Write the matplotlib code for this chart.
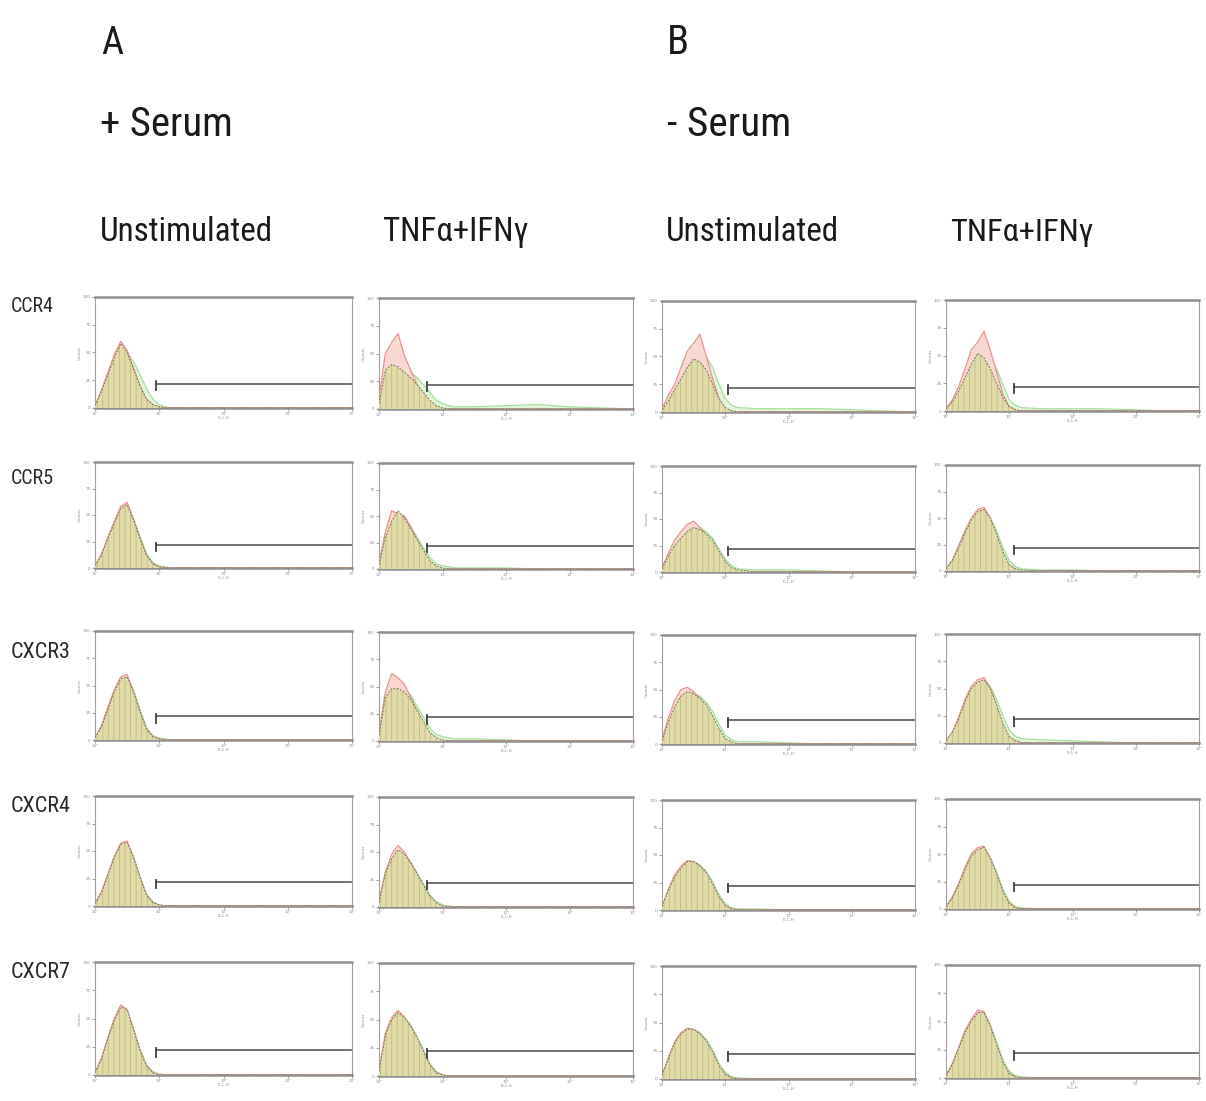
import matplotlib
matplotlib.use("Agg")
import matplotlib.pyplot as plt
from matplotlib import font_manager as fm
import numpy as np

plt.rcParams['hatch.linewidth'] = 0.6

# ---------------- data ----------------
panel_titles = ["A", "B"]
serum_labels = ["+ Serum", "- Serum"]
column_labels = ["Unstimulated", "TNF\u03b1+IFN\u03b3", "Unstimulated", "TNF\u03b1+IFN\u03b3"]
row_labels = ["CCR4", "CCR5", "CXCR3", "CXCR4", "CXCR7"]

# histogram sample points (log10 fluorescence, decades)
decades = [0.0, 0.1, 0.2, 0.3, 0.4, 0.5, 0.6, 0.7, 0.8, 0.9, 1.0, 1.1, 1.2,
           1.5, 2.0, 2.5, 3.0, 3.5, 4.0]
xtick_labels = ["10\u2070", "10\u00b9", "10\u00b2", "10\u00b3", "10\u2074"]
ytick_values = [0, 25, 50, 75, 100]

# isotype control (tan), red overlay, green overlay - % of axis height
iso = [
    [[2, 15, 30, 45, 58, 50, 35, 20, 8, 3, 1, 0, 0, 0, 0, 0, 0, 0, 0],
     [5, 35, 40, 38, 33, 28, 22, 15, 8, 3, 1, 0, 0, 0, 0, 0, 0, 0, 0],
     [2, 10, 20, 30, 40, 48, 45, 38, 25, 12, 4, 1, 0, 0, 0, 0, 0, 0, 0],
     [2, 8, 18, 30, 42, 52, 48, 38, 25, 12, 4, 1, 0, 0, 0, 0, 0, 0, 0]],
    [[2, 12, 28, 42, 56, 60, 45, 28, 12, 4, 1, 0, 0, 0, 0, 0, 0, 0, 0],
     [4, 30, 45, 55, 48, 38, 28, 18, 8, 3, 1, 0, 0, 0, 0, 0, 0, 0, 0],
     [3, 15, 25, 32, 38, 42, 40, 36, 30, 20, 10, 4, 2, 0, 0, 0, 0, 0, 0],
     [2, 10, 22, 36, 48, 56, 58, 50, 35, 18, 6, 2, 1, 0, 0, 0, 0, 0, 0]],
    [[2, 12, 28, 44, 56, 58, 44, 26, 10, 3, 1, 0, 0, 0, 0, 0, 0, 0, 0],
     [5, 40, 48, 48, 45, 38, 28, 18, 8, 3, 1, 0, 0, 0, 0, 0, 0, 0, 0],
     [3, 20, 34, 44, 48, 46, 42, 36, 26, 14, 5, 2, 0, 0, 0, 0, 0, 0, 0],
     [2, 10, 22, 38, 50, 56, 58, 50, 35, 18, 6, 2, 0, 0, 0, 0, 0, 0, 0]],
    [[2, 12, 28, 44, 56, 58, 44, 26, 10, 3, 1, 0, 0, 0, 0, 0, 0, 0, 0],
     [4, 30, 44, 52, 48, 40, 30, 20, 10, 4, 1, 0, 0, 0, 0, 0, 0, 0, 0],
     [3, 18, 30, 38, 44, 44, 40, 34, 24, 12, 4, 1, 0, 0, 0, 0, 0, 0, 0],
     [2, 10, 22, 36, 48, 54, 56, 46, 32, 16, 5, 1, 0, 0, 0, 0, 0, 0, 0]],
    [[2, 14, 32, 48, 60, 58, 40, 22, 8, 2, 0, 0, 0, 0, 0, 0, 0, 0, 0],
     [4, 36, 50, 56, 52, 44, 34, 22, 10, 3, 1, 0, 0, 0, 0, 0, 0, 0, 0],
     [3, 18, 32, 40, 44, 44, 40, 34, 24, 12, 4, 1, 0, 0, 0, 0, 0, 0, 0],
     [2, 12, 26, 40, 50, 58, 58, 46, 30, 14, 4, 1, 0, 0, 0, 0, 0, 0, 0]],
]
red = [
    [[2, 16, 32, 48, 60, 52, 36, 20, 8, 3, 1, 0, 0, 0, 0, 0, 0, 0, 0],
     [10, 50, 60, 68, 48, 35, 22, 12, 5, 2, 0, 0, 0, 0, 0, 0, 0, 0, 0],
     [3, 15, 25, 40, 55, 62, 70, 50, 30, 12, 3, 1, 0, 0, 0, 0, 0, 0, 0],
     [2, 10, 22, 38, 55, 62, 72, 55, 35, 15, 4, 1, 0, 0, 0, 0, 0, 0, 0]],
    [[2, 13, 29, 44, 58, 62, 46, 28, 12, 4, 1, 0, 0, 0, 0, 0, 0, 0, 0],
     [6, 35, 55, 52, 50, 40, 28, 16, 6, 2, 0, 0, 0, 0, 0, 0, 0, 0, 0],
     [4, 18, 30, 38, 45, 48, 42, 35, 25, 14, 6, 2, 1, 0, 0, 0, 0, 0, 0],
     [2, 10, 24, 38, 50, 58, 60, 50, 34, 16, 5, 2, 0, 0, 0, 0, 0, 0, 0]],
    [[2, 13, 30, 46, 58, 60, 44, 26, 10, 3, 1, 0, 0, 0, 0, 0, 0, 0, 0],
     [8, 45, 62, 58, 52, 40, 28, 16, 6, 2, 0, 0, 0, 0, 0, 0, 0, 0, 0],
     [4, 24, 40, 50, 52, 48, 42, 34, 24, 12, 4, 1, 0, 0, 0, 0, 0, 0, 0],
     [2, 10, 24, 40, 52, 58, 60, 50, 34, 16, 5, 2, 0, 0, 0, 0, 0, 0, 0]],
    [[2, 13, 29, 45, 57, 59, 44, 26, 10, 3, 1, 0, 0, 0, 0, 0, 0, 0, 0],
     [5, 32, 48, 56, 50, 40, 30, 18, 8, 3, 1, 0, 0, 0, 0, 0, 0, 0, 0],
     [3, 19, 32, 40, 45, 44, 40, 33, 23, 11, 4, 1, 0, 0, 0, 0, 0, 0, 0],
     [2, 11, 23, 38, 50, 56, 57, 46, 31, 15, 5, 1, 0, 0, 0, 0, 0, 0, 0]],
    [[2, 15, 33, 50, 62, 58, 40, 22, 8, 2, 0, 0, 0, 0, 0, 0, 0, 0, 0],
     [5, 38, 52, 58, 52, 44, 33, 21, 9, 3, 1, 0, 0, 0, 0, 0, 0, 0, 0],
     [3, 19, 33, 41, 45, 44, 40, 33, 23, 11, 4, 1, 0, 0, 0, 0, 0, 0, 0],
     [2, 13, 27, 42, 52, 60, 59, 46, 29, 13, 4, 1, 0, 0, 0, 0, 0, 0, 0]],
]
green = [
    [[2, 12, 25, 38, 48, 50, 42, 30, 18, 8, 3, 1, 0, 0, 0, 0, 0, 0, 0],
     [5, 30, 40, 42, 38, 33, 28, 22, 15, 8, 5, 3, 2, 2, 3, 4, 2, 1, 0],
     [2, 8, 15, 25, 35, 42, 48, 50, 40, 25, 12, 6, 4, 3, 3, 3, 2, 1, 0],
     [1, 6, 14, 24, 35, 45, 50, 48, 38, 24, 10, 5, 3, 2, 2, 2, 1, 0, 0]],
    [[2, 10, 25, 40, 52, 58, 46, 30, 14, 5, 2, 1, 0, 0, 0, 0, 0, 0, 0],
     [4, 28, 42, 50, 48, 40, 30, 20, 11, 5, 3, 2, 1, 1, 1, 0, 0, 0, 0],
     [3, 14, 24, 32, 38, 42, 42, 38, 32, 22, 12, 6, 3, 2, 2, 1, 0, 0, 0],
     [2, 9, 20, 33, 45, 53, 56, 50, 38, 22, 10, 4, 2, 1, 1, 0, 0, 0, 0]],
    [[2, 10, 26, 42, 54, 57, 46, 28, 12, 4, 2, 1, 0, 0, 0, 0, 0, 0, 0],
     [5, 38, 48, 50, 48, 42, 32, 22, 12, 6, 4, 3, 2, 2, 1, 0, 0, 0, 0],
     [3, 20, 34, 44, 48, 46, 44, 38, 30, 18, 8, 4, 2, 2, 1, 0, 0, 0, 0],
     [2, 9, 20, 35, 47, 54, 58, 52, 40, 25, 12, 6, 4, 3, 2, 1, 0, 0, 0]],
    [[2, 11, 27, 43, 55, 57, 45, 27, 11, 4, 1, 0, 0, 0, 0, 0, 0, 0, 0],
     [4, 29, 43, 51, 48, 41, 31, 21, 11, 5, 2, 1, 0, 0, 0, 0, 0, 0, 0],
     [3, 17, 29, 37, 43, 44, 41, 35, 26, 14, 6, 2, 1, 1, 0, 0, 0, 0, 0],
     [2, 9, 21, 35, 47, 53, 56, 47, 34, 18, 7, 2, 1, 0, 0, 0, 0, 0, 0]],
    [[2, 13, 31, 47, 59, 57, 41, 23, 9, 3, 1, 0, 0, 0, 0, 0, 0, 0, 0],
     [4, 35, 49, 55, 52, 45, 35, 23, 11, 4, 1, 0, 0, 0, 0, 0, 0, 0, 0],
     [3, 17, 31, 39, 43, 44, 41, 35, 26, 14, 6, 2, 1, 0, 0, 0, 0, 0, 0],
     [2, 11, 25, 39, 49, 57, 58, 47, 32, 16, 6, 2, 1, 0, 0, 0, 0, 0, 0]],
]
# marker gate: start (decades) per column, level (% of axis)
gate_start = [0.95, 0.75, 1.05, 1.08]
gate_level = 22

# ---------------- font choice (prefer a narrow face, Calibri-like) ----------------
def pick_font():
    prefs = ['Liberation Sans Narrow', 'Roboto Condensed', 'Open Sans Condensed',
             'Noto Sans Condensed', 'DejaVu Sans Condensed', 'Noto Sans Display Condensed']
    found = {}
    for f in fm.fontManager.ttflist:
        ok_w = f.weight in (400, 'normal', 'regular', 'book')
        if f.style == 'normal' and ok_w:
            found.setdefault(f.name, f)
        if f.style == 'normal' and ok_w and f.stretch in ('condensed', 'semi-condensed') \
                and f.name in ('Noto Sans', 'Open Sans', 'Roboto', 'DejaVu Sans', 'Liberation Sans'):
            found.setdefault(f.name + ' Condensed', f)
    for p in prefs:
        if p in found:
            return fm.FontProperties(fname=found[p].fname)
    return fm.FontProperties(family=['Liberation Sans', 'DejaVu Sans'])

FP = pick_font()

# ---------------- layout (pixels) ----------------
W, H = 1206, 1101
col_left = [95, 379, 662, 946]
col_right = [352, 633, 915, 1199]
row_top = [297, 462, 631, 796, 962]
row_bot = [408, 568, 740, 906, 1075]
col_dy = [0, 1, 4, 3]

fig = plt.figure(figsize=(W / 100, H / 100), dpi=100)
fig.patch.set_facecolor('white')
renderer = fig.canvas.get_renderer()

def fx(px):
    return px / W

def fy(py):
    return 1 - py / H

def fit_text(x, y, s, target_w, va='baseline', color='#1a1a1a', size0=20):
    fp = FP.copy()
    fp.set_size(size0)
    t = fig.text(fx(x), fy(y), s, fontproperties=fp, ha='left', va=va, color=color)
    w = t.get_window_extent(renderer).width
    t.set_fontsize(size0 * target_w / w)
    return t

# header texts
for x, t in zip([101, 667], panel_titles):
    fit_text(x, 54, t, 22)
for x, t, tw in zip([100, 667], serum_labels, [133, 124]):
    fit_text(x, 136, t, tw)
for x, t, tw in zip([100, 383, 666, 950], column_labels, [173, 145, 173, 143]):
    fit_text(x, 241, t, tw)
for yc, t, tw in zip([306, 478, 653, 806, 972], row_labels, [43, 43, 60, 60, 60]):
    fit_text(11, yc, t, tw, va='center', color='#2a2a2a')

xs = 10 ** np.array(decades)
for r in range(5):
    for c in range(4):
        top = row_top[r] + col_dy[c]
        bot = row_bot[r] + col_dy[c]
        ax = fig.add_axes([fx(col_left[c]), fy(bot), fx(col_right[c] - col_left[c]),
                           (bot - top) / H])
        ax.set_xscale('log')
        ax.set_xlim(1, 1e4)
        ax.set_ylim(0, 100)
        g = np.array(green[r][c])
        rd = np.array(red[r][c])
        iv = np.array(iso[r][c])
        ax.fill_between(xs, 0, g, color='#e2f4da', lw=0, zorder=1)
        ax.plot(xs, g, color='#a6e09c', lw=0.9, zorder=2)
        ax.fill_between(xs, 0, rd, color='#f7d8d2', lw=0, zorder=2)
        ax.plot(xs, rd, color='#e8948c', lw=0.9, zorder=3)
        ax.fill_between(xs, 0, iv, facecolor='#e0dba8', edgecolor='#c2bb80',
                        hatch='|||', lw=0, zorder=4)
        ax.plot(xs, iv, color='#77765f', lw=0.7, ls=(0, (2, 1.5)), zorder=5)
        # gate marker
        g0 = 10 ** gate_start[c]
        ax.plot([g0, 1e4], [gate_level, gate_level], color='#727272', lw=1.4, zorder=6)
        ax.plot([g0, g0], [gate_level - 6, gate_level + 2], color='#404040', lw=1.3, zorder=6)
        # frame
        for s in ['left', 'right']:
            ax.spines[s].set_color('#a0a0a0')
            ax.spines[s].set_linewidth(0.8)
        for s in ['top', 'bottom']:
            ax.spines[s].set_color('#909090')
            ax.spines[s].set_linewidth(1.8)
        ax.set_xticks(10 ** np.arange(5))
        ax.set_xticklabels(xtick_labels)
        ax.minorticks_off()
        ax.set_yticks(ytick_values)
        ax.set_yticklabels([str(v) for v in ytick_values])
        ax.tick_params(axis='both', length=2, width=0.6, color='#909090',
                       labelsize=3, labelcolor='#909090', pad=1)
        ax.set_xlabel('FL1-H', fontsize=3, color='#909090', labelpad=0)
        ax.set_ylabel('Counts', fontsize=3, color='#909090', labelpad=1)

fig.savefig('out.png', dpi=100, facecolor='white')
